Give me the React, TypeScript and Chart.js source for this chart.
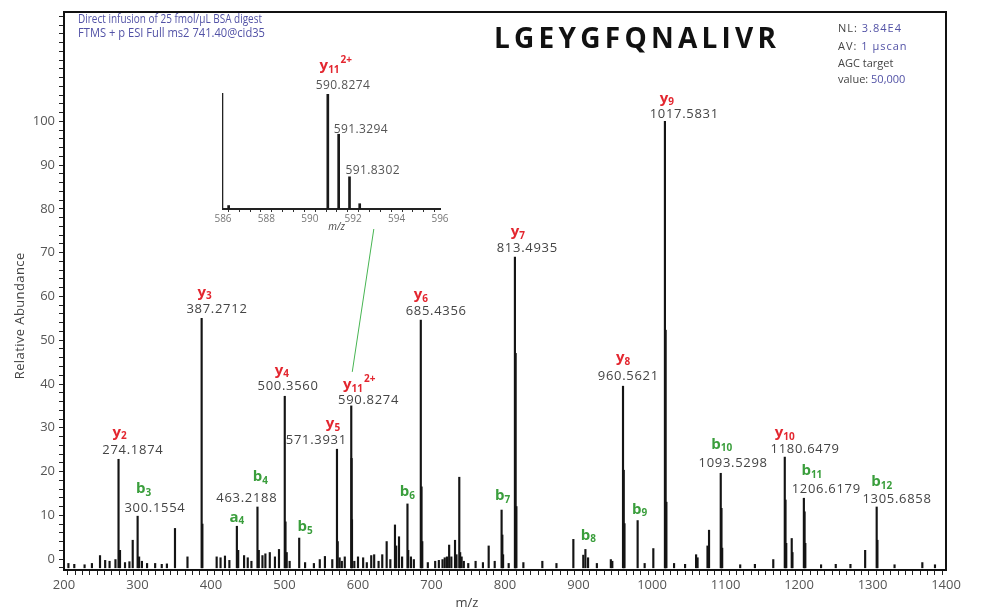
import React, { useEffect, useRef } from 'react';
import { Chart, registerables } from 'chart.js';

Chart.register(...registerables);

// ---------- data ----------
const X_MIN = 200;
const X_MAX = 1400;
const Y_MIN = -2.5;
const Y_MAX = 125;
const BASELINE = -2;

const PEAK_MZ = [
  206, 214, 228, 238, 249, 256, 262, 270, 274.19, 276.2, 283, 289, 293.5, 300.16, 302.2, 306, 313, 324, 333, 340,
  351, 368, 387.27, 388.27, 407.7, 413, 419, 425, 435.2, 437, 445, 450, 455, 463.22, 465, 470, 474, 480, 487, 492.5,
  500.36, 501.36, 503, 507, 520, 528, 540, 548, 555, 565, 571.39, 572.4, 575, 578, 582, 590.83, 591.33, 591.83, 595, 600,
  607, 612, 618, 622, 628, 633, 639, 644, 650.3, 652, 655.8, 660, 667.3, 668.3, 672, 676, 685.44, 686.44, 687.44, 695,
  705, 710, 715, 718, 721, 724, 727, 732, 734, 737.8, 739, 741, 744, 750, 760, 770, 777.8, 786, 795.37, 796.37,
  797.4, 805, 813.49, 814.5, 815.5, 825, 850.8, 870, 893, 906.5, 909.4, 913, 925, 944, 946, 960.56, 961.56, 962.57, 980.45, 990,
  1001.8, 1017.58, 1018.58, 1019.58, 1030, 1045, 1060, 1062, 1075.5, 1077.6, 1093.53, 1094.53, 1095.5, 1120, 1140, 1165, 1180.65, 1181.65, 1182.65, 1190.1,
  1191.1, 1206.62, 1207.62, 1208.6, 1230, 1250, 1270, 1290, 1305.69, 1306.69, 1330, 1367.8, 1385,
];
const PEAK_INTENSITY = [
  -1.0, -1.2, -1.3, -1.0, 0.8, -0.3, -0.5, 0.0, 22.8, 2.0, -0.8, -0.6, 4.3, 9.8, 0.5, -0.5, -1.0, -1.0, -1.2, -1.1,
  7.0, 0.5, 55.0, 8.0, 0.5, 0.3, 0.7, -0.3, 7.5, 2.0, 0.8, 0.3, -0.5, 11.9, 2.0, 0.8, 1.2, 1.5, 0.5, 2.2,
  37.2, 8.5, 1.5, -0.5, 4.8, -0.8, -1.0, 0.0, 0.6, 0.0, 25.1, 4.0, 0.3, -0.5, 0.5, 35.0, 23.0, 9.0, -0.5, 0.5,
  0.3, -0.8, 0.8, 1.0, -0.5, 1.0, 4.0, 0.0, 7.8, 3.0, 5.1, 0.5, 12.6, 2.0, 0.5, 0.0, 54.6, 16.5, 4.0, -0.8,
  -0.5, -0.3, 0.0, 0.3, 0.5, 3.2, 0.5, 4.3, 1.0, 18.7, 1.5, 0.5, -0.5, -1.0, -0.5, -0.8, 3.0, -0.5, 11.2, 5.5,
  1.0, -1.0, 69.0, 47.0, 12.0, -0.8, -0.5, -1.0, 4.5, 0.9, 2.2, 0.3, -1.0, 0.0, -0.5, 39.5, 20.3, 8.1, 8.8, -1.0,
  2.4, 100, 52.3, 13, -1.0, -1.2, 1.0, 0.3, 3.0, 6.6, 19.6, 11.6, 2.5, -1.3, -1.2, 0.0, 23.3, 13.5, 3.6, 4.7,
  1.5, 13.9, 10.8, 3.6, -1.3, -1.2, -1.2, 2.0, 11.9, 4.3, -1.3, -0.8, -1.3,
];

const ION_NAMES = ['y2', 'b3', 'y3', 'a4', 'b4', 'y4', 'b5', 'y5', 'y11', 'y6', 'b6', 'b7', 'y7', 'b8', 'y8', 'b9', 'y9', 'b10', 'y10', 'b11', 'b12'];
const ION_MZ = [274.19, 300.16, 387.27, 435.2, 463.22, 500.36, 520, 571.39, 590.83, 685.44, 667.3, 795.37, 813.49, 909.4, 960.56, 980.45, 1017.58, 1093.53, 1180.65, 1206.62, 1305.69];
const ION_VALUE_TEXT = ['274.1874', '300.1554', '387.2712', '', '463.2188', '500.3560', '', '571.3931', '590.8274', '685.4356', '', '', '813.4935', '', '960.5621', '', '1017.5831', '1093.5298', '1180.6479', '1206.6179', '1305.6858'];
const ION_CHARGE = ['', '', '', '', '', '', '', '', '2+', '', '', '', '', '', '', '', '', '', '', '', ''];

const INSET_MZ = [586.26, 590.83, 591.33, 591.83, 592.3];
const INSET_INTENSITY = [3, 100, 65, 28, 4.6];
const INSET_LABEL_MZ = [590.83, 591.33, 591.83];
const INSET_LABEL_TEXT = ['590.8274', '591.3294', '591.8302'];
const INSET_LINK_MZ = 592.95;

const PEPTIDE = 'LGEYGFQNALIVR';
const HEADER_LINES = ['Direct infusion of 25 fmol/\u00b5L BSA digest', 'FTMS + p ESI Full ms2 741.40@cid35'];

// ---------- layout / styles ----------
const W = 981;
const H = 610;
const INSET_POS = { left: 200, top: 50, width: 260, height: 185 };
const RED = '#e3262f';
const GREEN = '#3a9e3c';
const BLUE = '#5252a6';
const GREYTXT = '#555';
const FONT = "'Open Sans', 'Noto Sans', sans-serif";

const ION_LAYOUT: Record<string, { ion: [number, number]; num?: [number, number] }> = {
  y2: { ion: [1, -27], num: [14, -9] },
  b3: { ion: [6, -27], num: [17, -8] },
  y3: { ion: [3, -26], num: [15, -9] },
  a4: { ion: [0, -9] },
  b4: { ion: [3, -30], num: [-11, -9] },
  y4: { ion: [-3, -26], num: [3, -10] },
  b5: { ion: [6, -11] },
  y5: { ion: [-4, -25], num: [-21, -9] },
  y11: { ion: [8, -21], num: [17, -6] },
  y6: { ion: [0, -25], num: [15, -9] },
  b6: { ion: [0, -12] },
  b7: { ion: [1, -14] },
  y7: { ion: [3, -25], num: [12, -9] },
  b8: { ion: [3, -14] },
  y8: { ion: [0, -28], num: [5, -10] },
  b9: { ion: [2, -11] },
  y9: { ion: [2, -23], num: [19, -7] },
  b10: { ion: [1, -29], num: [12, -10] },
  y10: { ion: [0, -24], num: [20, -8] },
  b11: { ion: [8, -27], num: [22, -9] },
  b12: { ion: [5, -25], num: [20, -8] },
};
const INSET_LABEL_LAYOUT: [number, number][] = [[15, -8], [22, -5], [23, -6]];

function nearestPeak(mz: number): number {
  let best = 0;
  for (let i = 1; i < PEAK_MZ.length; i++) {
    if (Math.abs(PEAK_MZ[i] - mz) < Math.abs(PEAK_MZ[best] - mz)) best = i;
  }
  return best;
}

function setSpacing(ctx: any, px: number) {
  try { ctx.letterSpacing = px + 'px'; } catch (e) { /* ignore */ }
}

function drawText(ctx: CanvasRenderingContext2D, text: string, x: number, y: number, font: string, color: string, align: CanvasTextAlign = 'center', spacing = 0) {
  ctx.save();
  ctx.font = font;
  ctx.fillStyle = color;
  ctx.textBaseline = 'middle';
  setSpacing(ctx, spacing);
  const w = ctx.measureText(text).width - spacing;
  let sx = x;
  if (align === 'center') sx = x - w / 2;
  else if (align === 'right') sx = x - w;
  ctx.textAlign = 'left';
  ctx.fillText(text, sx, y);
  ctx.restore();
}

function drawIon(ctx: CanvasRenderingContext2D, name: string, charge: string, cx: number, cy: number) {
  const letter = name[0];
  const sub = name.slice(1);
  const color = letter === 'y' ? RED : GREEN;
  const fMain = `bold 15px ${FONT}`;
  const fSmall = `bold 10px ${FONT}`;
  ctx.save();
  ctx.fillStyle = color;
  ctx.textBaseline = 'middle';
  ctx.textAlign = 'left';
  ctx.font = fMain;
  const w1 = ctx.measureText(letter).width;
  ctx.font = fSmall;
  const w2 = ctx.measureText(sub).width;
  const w3 = charge ? ctx.measureText(charge).width + 1 : 0;
  let x = cx - (w1 + w2 + w3) / 2;
  ctx.font = fMain;
  ctx.fillText(letter, x, cy);
  x += w1;
  ctx.font = fSmall;
  ctx.fillText(sub, x, cy + 4);
  x += w2 + 1;
  if (charge) ctx.fillText(charge, x, cy - 6);
  ctx.restore();
}

export default function App() {
  const mainRef = useRef<HTMLCanvasElement>(null);
  const insetRef = useRef<HTMLCanvasElement>(null);

  useEffect(() => {
    if (!mainRef.current || !insetRef.current) return;

    // ---------- inset ----------
    const insetPlugin = {
      id: 'insetText',
      afterDraw(chart: any) {
        const { ctx, chartArea: a, scales } = chart;
        const xs = scales.x;
        const ys = scales.y;
        const p0 = xs.getPixelForValue(INSET_LABEL_MZ[0]);
        const t0 = ys.getPixelForValue(INSET_INTENSITY[INSET_MZ.indexOf(INSET_LABEL_MZ[0])]);
        drawIon(ctx, 'y11', '2+', p0 + 8, t0 - 28);
        INSET_LABEL_MZ.forEach((mz, i) => {
          const px = xs.getPixelForValue(mz);
          const py = ys.getPixelForValue(INSET_INTENSITY[INSET_MZ.indexOf(mz)]);
          const [dx, dy] = INSET_LABEL_LAYOUT[i];
          drawText(ctx, INSET_LABEL_TEXT[i], px + dx, py + dy, `12px ${FONT}`, '#555', 'center', 0.4);
        });
        drawText(ctx, 'm/z', (a.left + a.right) / 2 + 5, a.bottom + 18, `italic 10px ${FONT}`, '#444');
      },
    };

    const inset = new Chart(insetRef.current, {
      type: 'bar',
      data: {
        datasets: [
          {
            data: INSET_MZ.map((m, i) => ({ x: m, y: INSET_INTENSITY[i] })) as any,
            backgroundColor: '#1a1a1a',
            barThickness: 2,
            borderWidth: 0,
            grouped: false,
          } as any,
        ],
      },
      options: {
        animation: false,
        responsive: false,
        devicePixelRatio: 1,
        events: [],
        layout: { padding: { left: 0, top: 44, right: 20, bottom: 0 } },
        plugins: { legend: { display: false }, tooltip: { enabled: false } },
        scales: {
          x: {
            type: 'linear',
            min: 586,
            max: 596,
            offset: false,
            grid: { display: true, drawOnChartArea: false, tickLength: 3, color: '#333' },
            border: { display: true, color: '#222', width: 2 },
            ticks: {
              stepSize: 0.5,
              autoSkip: false,
              maxRotation: 0,
              includeBounds: false,
              padding: 1,
              color: '#777',
              font: { family: FONT, size: 10 },
              callback: (v: any) => (Number(v) % 2 === 0 ? String(v) : ''),
            },
            afterFit: (s: any) => { s.height = 26; },
          } as any,
          y: {
            min: 0,
            max: 100,
            grid: { display: false, drawTicks: false },
            border: { display: true, color: '#222', width: 1.3 },
            ticks: { display: false },
            afterFit: (s: any) => { s.width = 23; },
          } as any,
        },
      },
      plugins: [insetPlugin],
    });

    // ---------- main ----------
    const mainPlugin = {
      id: 'spectrumText',
      afterDraw(chart: any) {
        const { ctx, chartArea: a, scales } = chart;
        const xs = scales.x;
        const ys = scales.y;
        ctx.save();
        ctx.strokeStyle = '#111';
        ctx.lineWidth = 2;
        ctx.beginPath();
        ctx.moveTo(a.left - 1, a.top);
        ctx.lineTo(a.right, a.top);
        ctx.lineTo(a.right, a.bottom);
        ctx.stroke();
        ctx.restore();

        // header
        ctx.save();
        ctx.font = `12px ${FONT}`;
        const targets = [184, 187];
        const ys0 = [20, 34];
        HEADER_LINES.forEach((t, i) => {
          const w = ctx.measureText(t).width;
          ctx.save();
          ctx.translate(78, ys0[i]);
          ctx.scale(targets[i] / w, 1);
          ctx.fillStyle = BLUE;
          ctx.textBaseline = 'middle';
          ctx.fillText(t, 0, 0);
          ctx.restore();
        });
        ctx.restore();

        // peptide title
        ctx.save();
        ctx.font = `bold 28px ${FONT}`;
        setSpacing(ctx, 0);
        const tw = ctx.measureText(PEPTIDE).width;
        const sp = (282 - tw) / (PEPTIDE.length - 1);
        setSpacing(ctx, sp);
        ctx.fillStyle = '#111';
        ctx.textBaseline = 'alphabetic';
        ctx.fillText(PEPTIDE, 494, 48);
        ctx.restore();

        // info box
        const info: [string, string, number][] = [['NL: ', '3.84E4', 29], ['AV: ', '1 \u00b5scan', 47], ['AGC target', '', 64], ['value: ', '50,000', 80]];
        info.forEach(([k, v, y]) => {
          ctx.save();
          ctx.font = `11px ${FONT}`;
          setSpacing(ctx, k.startsWith('NL') || k.startsWith('AV') ? 1 : 0);
          ctx.textBaseline = 'middle';
          ctx.fillStyle = '#444';
          ctx.fillText(k, 838, y);
          const kw = ctx.measureText(k).width;
          ctx.fillStyle = BLUE;
          ctx.fillText(v, 838 + kw, y);
          ctx.restore();
        });

        // axis titles
        ctx.save();
        ctx.translate(20, 316);
        ctx.rotate(-Math.PI / 2);
        drawText(ctx, 'Relative Abundance', 0, 0, `13px ${FONT}`, '#444', 'center', 0.4);
        ctx.restore();
        drawText(ctx, 'm/z', 467, 603, `13px ${FONT}`, '#444');

        // ion annotations
        let y11Pos = { x: 0, y: 0 };
        ION_NAMES.forEach((name, i) => {
          const idx = nearestPeak(ION_MZ[i]);
          const px = xs.getPixelForValue(PEAK_MZ[idx]);
          const py = ys.getPixelForValue(PEAK_INTENSITY[idx]);
          const lay = ION_LAYOUT[name];
          drawIon(ctx, name, ION_CHARGE[i], px + lay.ion[0], py + lay.ion[1]);
          if (ION_VALUE_TEXT[i] && lay.num) {
            drawText(ctx, ION_VALUE_TEXT[i], px + lay.num[0], py + lay.num[1], `13px ${FONT}`, '#444', 'center', 0.7);
          }
          if (ION_CHARGE[i]) y11Pos = { x: px + 1, y: py + lay.ion[1] - 13 };
        });

        // connector from inset
        const ix = inset.scales.x.getPixelForValue(INSET_LINK_MZ) + INSET_POS.left;
        const iy = inset.chartArea.bottom + INSET_POS.top + 20;
        ctx.save();
        ctx.strokeStyle = '#47b552';
        ctx.lineWidth = 1;
        ctx.beginPath();
        ctx.moveTo(ix, iy);
        ctx.lineTo(y11Pos.x, y11Pos.y);
        ctx.stroke();
        ctx.restore();
      },
    };

    const main = new Chart(mainRef.current, {
      type: 'bar',
      data: {
        datasets: [
          {
            data: PEAK_MZ.map((m, i) => ({ x: m, y: [BASELINE, PEAK_INTENSITY[i]] })) as any,
            backgroundColor: '#141414',
            barThickness: 1.5,
            borderWidth: 0,
            grouped: false,
          } as any,
        ],
      },
      options: {
        animation: false,
        responsive: false,
        devicePixelRatio: 1,
        events: [],
        layout: { padding: { left: 0, top: 12, right: W - 946, bottom: 0 } },
        plugins: { legend: { display: false }, tooltip: { enabled: false } },
        scales: {
          x: {
            type: 'linear',
            min: X_MIN,
            max: X_MAX,
            offset: false,
            grid: { display: true, drawOnChartArea: false, tickLength: 5, color: '#222' },
            border: { display: true, color: '#111', width: 2 },
            ticks: {
              stepSize: 10,
              autoSkip: false,
              maxRotation: 0,
              includeBounds: false,
              padding: 2,
              color: GREYTXT,
              font: { family: FONT, size: 13 },
              callback: (v: any) => (Number(v) % 100 === 0 ? String(v) : ''),
            },
            afterFit: (s: any) => { s.height = 40; },
          } as any,
          y: {
            min: Y_MIN,
            max: Y_MAX,
            grid: { display: true, drawOnChartArea: false, tickLength: 5, color: '#222' },
            border: { display: true, color: '#111', width: 2 },
            ticks: {
              stepSize: 2,
              autoSkip: false,
              includeBounds: false,
              padding: 4,
              color: GREYTXT,
              font: { family: FONT, size: 13 },
              callback: (v: any) => (Number(v) % 10 === 0 && Number(v) >= 0 && Number(v) <= 100 ? String(v) : ''),
            },
            afterFit: (s: any) => { s.width = 64; },
          } as any,
        },
      },
      plugins: [mainPlugin],
    });

    return () => {
      main.destroy();
      inset.destroy();
    };
  }, []);

  return (
    <div style={{ position: 'absolute', left: 0, top: 0, width: W, height: H, background: '#fff' }}>
      <canvas ref={mainRef} width={W} height={H} style={{ position: 'absolute', left: 0, top: 0 }} />
      <canvas
        ref={insetRef}
        width={INSET_POS.width}
        height={INSET_POS.height}
        style={{ position: 'absolute', left: INSET_POS.left, top: INSET_POS.top }}
      />
    </div>
  );
}
